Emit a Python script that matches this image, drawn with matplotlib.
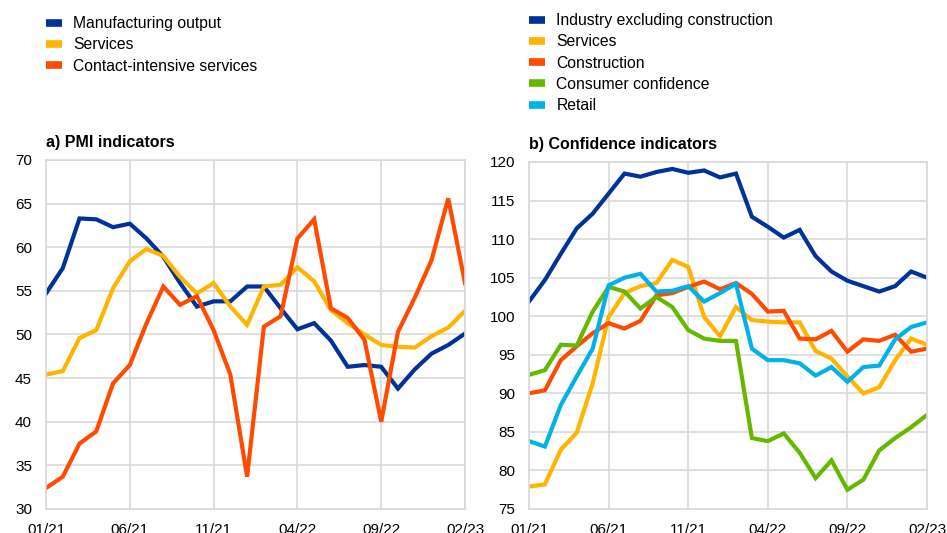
import matplotlib
matplotlib.use("Agg")
import matplotlib.pyplot as plt
from matplotlib.lines import Line2D
import numpy as np

plt.rcParams['font.family'] = ['Liberation Sans', 'DejaVu Sans']

months = list(range(26))
tick_pos = [0, 5, 10, 15, 20, 25]
tick_labels = ["01/21", "06/21", "11/21", "04/22", "09/22", "02/23"]

# Panel a) PMI indicators
manufacturing = [54.7, 57.6, 63.3, 63.2, 62.3, 62.7, 61.0, 58.9, 55.9, 53.2, 53.8, 53.8, 55.5,
                 55.5, 53.0, 50.6, 51.3, 49.3, 46.3, 46.5, 46.3, 43.8, 46.0, 47.8, 48.8, 50.1]
services_pmi = [45.4, 45.8, 49.6, 50.5, 55.3, 58.4, 59.8, 59.0, 56.6, 54.7, 55.9, 53.2, 51.1,
                55.5, 55.7, 57.7, 56.1, 52.8, 51.3, 50.0, 48.8, 48.6, 48.5, 49.8, 50.8, 52.7]
contact = [32.4, 33.7, 37.5, 38.9, 44.4, 46.5, 51.3, 55.5, 53.4, 54.4, 50.5, 45.4, 33.7,
           50.9, 52.1, 61.0, 63.2, 53.0, 51.9, 49.4, 40.0, 50.3, 54.2, 58.5, 65.6, 55.9]

# Panel b) Confidence indicators
industry = [101.9, 104.7, 108.1, 111.4, 113.3, 115.9, 118.5, 118.1, 118.7, 119.1, 118.6, 118.9, 118.0,
            118.5, 112.9, 111.6, 110.2, 111.2, 107.8, 105.8, 104.6, 103.9, 103.2, 103.9, 105.8, 105.0]
services_conf = [77.9, 78.2, 82.7, 84.9, 91.3, 99.9, 103.0, 103.9, 104.3, 107.3, 106.4, 99.9, 97.4,
                 101.2, 99.5, 99.3, 99.2, 99.2, 95.5, 94.5, 92.2, 90.0, 90.8, 94.3, 97.1, 96.3]
construction = [90.0, 90.4, 94.3, 96.1, 97.8, 99.1, 98.4, 99.4, 102.7, 103.0, 103.8, 104.5, 103.5,
                104.3, 102.9, 100.6, 100.7, 97.1, 97.0, 98.1, 95.4, 97.0, 96.8, 97.6, 95.4, 95.8]
consumer = [92.4, 93.0, 96.3, 96.2, 100.6, 103.8, 103.2, 101.0, 102.5, 101.2, 98.2, 97.1, 96.8,
            96.8, 84.2, 83.8, 84.8, 82.3, 79.0, 81.3, 77.5, 78.8, 82.6, 84.2, 85.6, 87.2]
retail = [83.8, 83.1, 88.5, 92.2, 95.8, 104.0, 105.0, 105.5, 103.2, 103.3, 103.9, 101.9, 103.0,
          104.2, 95.8, 94.3, 94.3, 93.9, 92.3, 93.4, 91.5, 93.4, 93.6, 97.0, 98.6, 99.2]

BLUE = "#003299"
YELLOW = "#FFB400"
ORANGE = "#FF4B00"
GREEN = "#65B800"
CYAN = "#00B1EA"
GRID = "#D9D9D9"

W, H = 947, 533
fig = plt.figure(figsize=(W / 100, H / 100), dpi=100)

ax1 = fig.add_axes([46 / W, (H - 509) / H, (465 - 46) / W, (509 - 160) / H])
ax2 = fig.add_axes([529 / W, (H - 509) / H, (927 - 529) / W, (509 - 162) / H])

LW = 3.0
series_a = [(manufacturing, BLUE, "Manufacturing output"),
            (services_pmi, YELLOW, "Services"),
            (contact, ORANGE, "Contact-intensive services")]
series_b = [(industry, BLUE, "Industry excluding construction"),
            (services_conf, YELLOW, "Services"),
            (construction, ORANGE, "Construction"),
            (consumer, GREEN, "Consumer confidence"),
            (retail, CYAN, "Retail")]

for ax, series, ylim, yticks, title, legtop in [
        (ax1, series_a, (30, 70), np.arange(30, 71, 5), "a) PMI indicators", 16),
        (ax2, series_b, (75, 120), np.arange(75, 121, 5), "b) Confidence indicators", 13)]:
    for vals, col, lab in series:
        ax.plot(months, vals, color=col, lw=LW, solid_joinstyle='miter', label=lab, clip_on=True)
    ax.set_xlim(0, 25)
    ax.set_ylim(*ylim)
    ax.set_yticks(yticks)
    ax.set_yticklabels([str(v) for v in yticks])
    ax.set_xticks(tick_pos)
    ax.set_xticklabels(tick_labels)
    ax.grid(True, color=GRID, lw=1.2)
    ax.set_axisbelow(True)
    for s in ax.spines.values():
        s.set_color(GRID)
        s.set_linewidth(1.2)
    ax.tick_params(length=0, labelsize=11, colors="#000000", pad=10)
    ax.tick_params(axis='x', pad=10)
    ax.set_title(title, loc='left', fontweight='bold', fontsize=11.5, pad=9)

    handles = [Line2D([0], [0], color=col, lw=5.5, solid_capstyle='butt') for _, col, _ in series]
    labels = [lab for _, _, lab in series]
    x0 = ax.get_position().x0
    fig.legend(handles, labels, loc='upper left', bbox_to_anchor=(x0, 1 - legtop / H),
               frameon=False, fontsize=11.3, handlelength=1.05, handletextpad=0.7,
               labelspacing=0.4, borderpad=0, borderaxespad=0)

fig.savefig("out.png", dpi=100)
